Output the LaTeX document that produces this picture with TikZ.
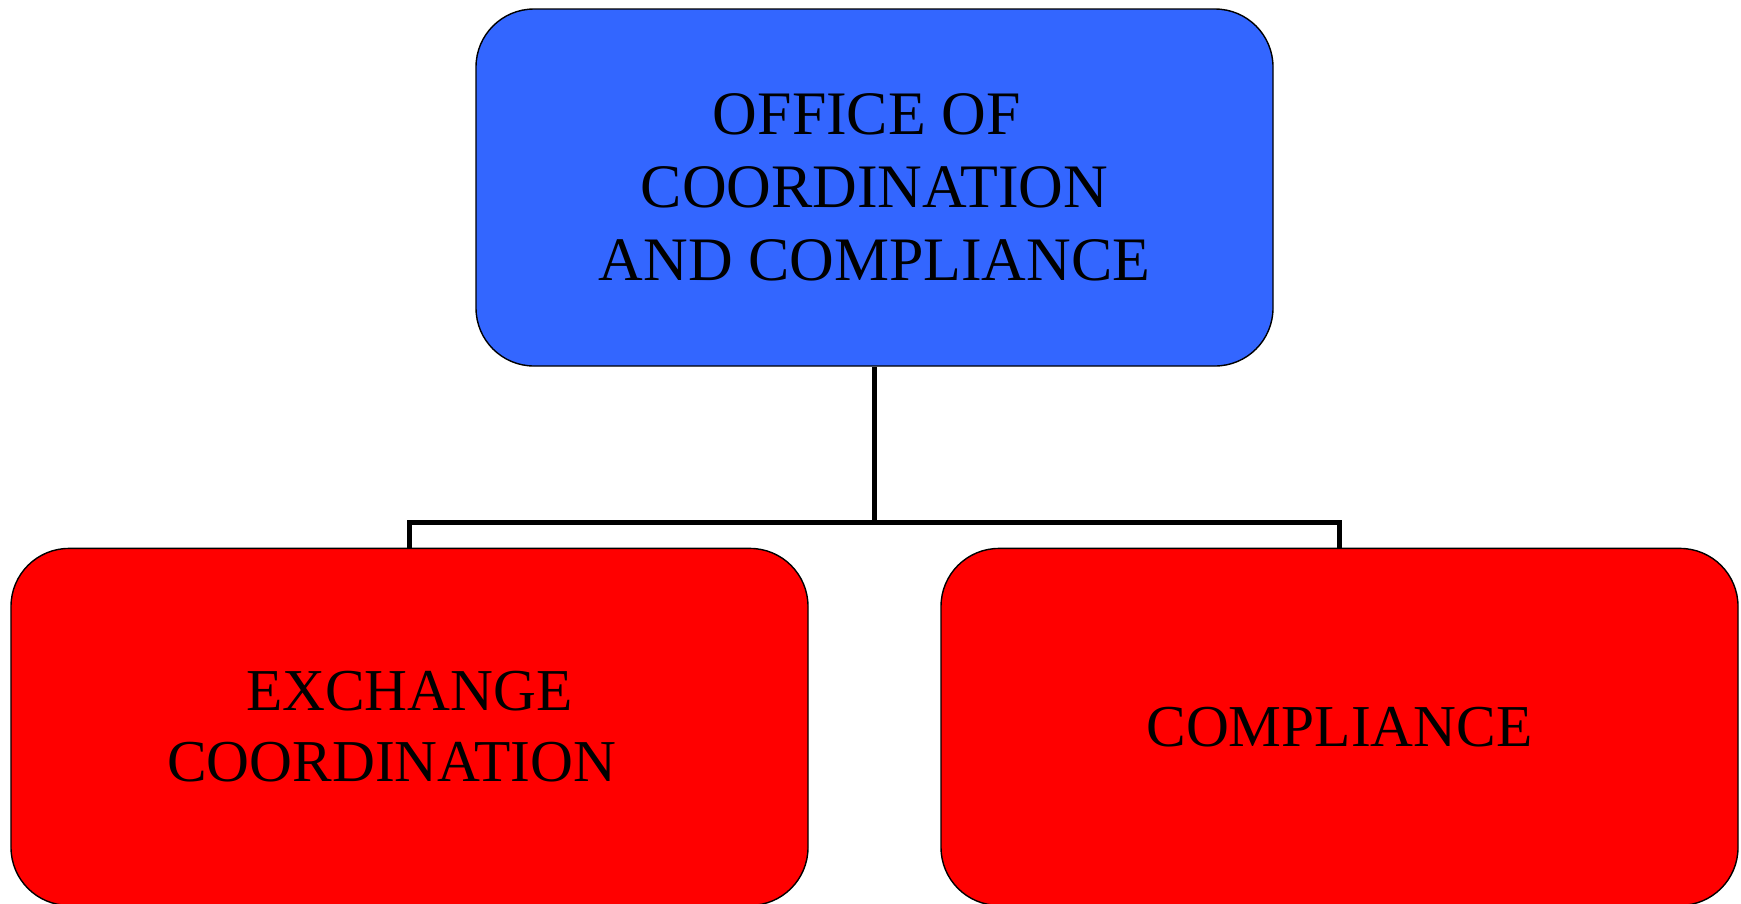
\documentclass[tikz,border=0pt]{standalone}
\usepackage{fontspec}
\setmainfont{Liberation Serif}
\usetikzlibrary{positioning}

\definecolor{officeblue}{HTML}{3366FF}
\definecolor{unitred}{HTML}{FF0000}

% trailing gap after a centred line
\newcommand{\tailgap}[1]{\hspace*{#1em}}

\begin{document}
\begin{tikzpicture}[
  node distance=18.1mm,
  orgbox/.style={draw=black, line width=0.4pt, rounded corners=5.8mm, align=center, minimum width=79.7mm, minimum height=35.7mm, inner sep=0pt},
  topbox/.style={orgbox, fill=officeblue, font=\fontsize{17.6}{20.8}\selectfont},
  unitbox/.style={orgbox, fill=unitred, font=\fontsize{16.9}{20.2}\selectfont},
  link/.style={line width=1.3pt}
]
\useasboundingbox (0,0) rectangle (17.41,-9.03);
\node[topbox] (office) at (8.745,-1.875) {OFFICE OF\tailgap{.25}\\COORDINATION\tailgap{.25}\\AND COMPLIANCE};
\node[unitbox, below=of office, xshift=-46.5mm] (exchange) {EXCHANGE\\COORDINATION\tailgap{.6}};
\node[unitbox, below=of office, xshift=46.5mm] (compliance) {COMPLIANCE};
\coordinate[below=15.6mm of office] (split);
\draw[link] (office.south) -- (split) -| (exchange.north);
\draw[link] (split) -| (compliance.north);
\end{tikzpicture}
\end{document}
